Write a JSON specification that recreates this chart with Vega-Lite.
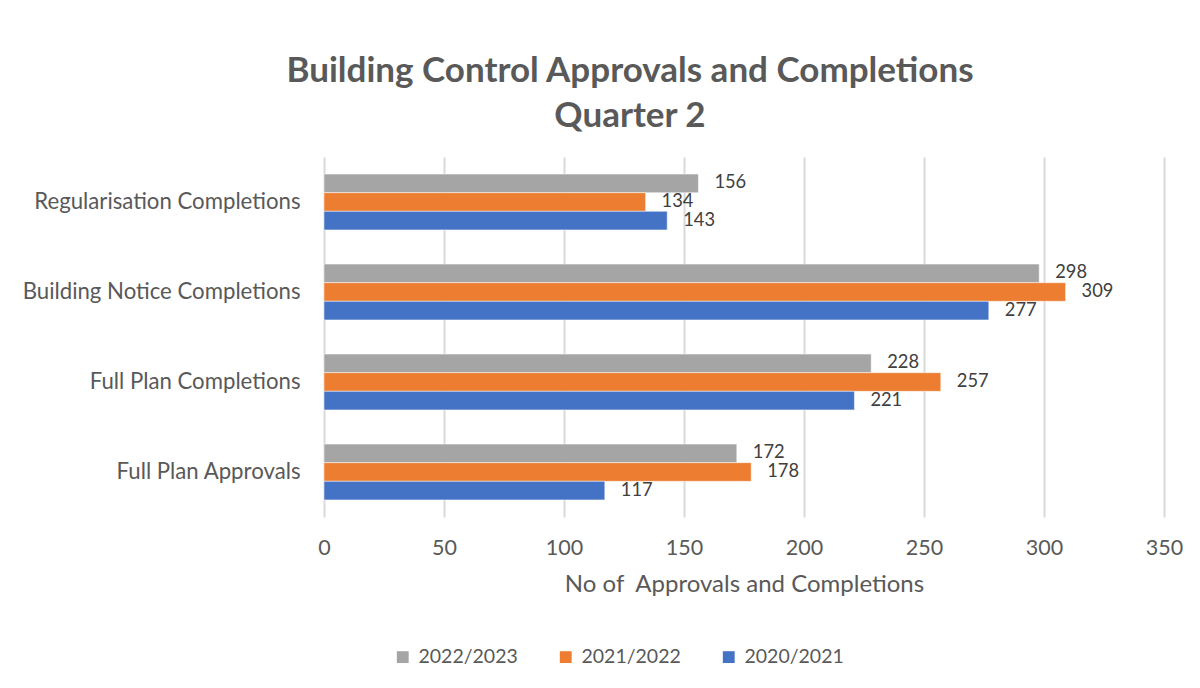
{
  "$schema": "https://vega.github.io/schema/vega-lite/v6.json",
  "width": 840,
  "height": 360,
  "autosize": {"type": "none"},
  "padding": {"left": 324, "top": 157, "right": 36, "bottom": 171},
  "background": "white",
  "title": {
    "text": ["Building Control Approvals and Completions", "Quarter 2"],
    "anchor": "middle",
    "frame": "group",
    "dx": -114,
    "offset": 23,
    "font": "Lato",
    "fontSize": 35,
    "fontWeight": "bold",
    "color": "#595959",
    "lineHeight": 45
  },
  "data": {
    "values": [
      {"category": "Regularisation Completions", "series": "2022/2023", "value": 156},
      {"category": "Regularisation Completions", "series": "2021/2022", "value": 134},
      {"category": "Regularisation Completions", "series": "2020/2021", "value": 143},
      {"category": "Building Notice Completions", "series": "2022/2023", "value": 298},
      {"category": "Building Notice Completions", "series": "2021/2022", "value": 309},
      {"category": "Building Notice Completions", "series": "2020/2021", "value": 277},
      {"category": "Full Plan Completions", "series": "2022/2023", "value": 228},
      {"category": "Full Plan Completions", "series": "2021/2022", "value": 257},
      {"category": "Full Plan Completions", "series": "2020/2021", "value": 221},
      {"category": "Full Plan Approvals", "series": "2022/2023", "value": 172},
      {"category": "Full Plan Approvals", "series": "2021/2022", "value": 178},
      {"category": "Full Plan Approvals", "series": "2020/2021", "value": 117}
    ]
  },
  "encoding": {
    "y": {
      "field": "category",
      "type": "nominal",
      "sort": ["Regularisation Completions", "Building Notice Completions", "Full Plan Completions", "Full Plan Approvals"],
      "scale": {"paddingInner": 0.38, "paddingOuter": 0.19},
      "axis": {
        "title": null,
        "domain": false,
        "ticks": false,
        "labelPadding": 24,
        "labelLimit": 400,
        "labelFont": "Lato",
        "labelFontSize": 22.2,
        "labelColor": "#595959"
      }
    },
    "yOffset": {
      "field": "series",
      "type": "nominal",
      "sort": ["2022/2023", "2021/2022", "2020/2021"]
    },
    "x": {
      "field": "value",
      "type": "quantitative",
      "scale": {"domain": [0, 350], "nice": false},
      "axis": {
        "values": [0, 50, 100, 150, 200, 250, 300, 350],
        "title": "No of\u00a0 Approvals and Completions",
        "titleFont": "Lato",
        "titleFontSize": 24,
        "titleFontWeight": "normal",
        "titleColor": "#595959",
        "titlePadding": 14,
        "domain": false,
        "ticks": false,
        "labelFlush": false,
        "labelPadding": 20,
        "labelFont": "Lato",
        "labelFontSize": 21.5,
        "labelColor": "#595959",
        "gridColor": "#d9d9d9",
        "gridWidth": 2
      }
    }
  },
  "layer": [
    {
      "mark": {"type": "bar", "stroke": "white", "strokeWidth": 0.5},
      "encoding": {
        "color": {
          "field": "series",
          "type": "nominal",
          "sort": ["2022/2023", "2021/2022", "2020/2021"],
          "scale": {
            "domain": ["2022/2023", "2021/2022", "2020/2021"],
            "range": ["#A5A5A5", "#ED7D31", "#4472C4"]
          },
          "legend": {
            "title": null,
            "orient": "none",
            "direction": "horizontal",
            "legendX": 69,
            "legendY": 490,
            "symbolType": "square",
            "symbolSize": 140,
            "symbolStrokeWidth": 0,
            "labelFont": "Lato",
            "labelFontSize": 19.5,
            "labelColor": "#595959",
            "labelOffset": 6,
            "columnPadding": 38
          }
        }
      }
    },
    {
      "mark": {
        "type": "text",
        "align": "left",
        "baseline": "middle",
        "dx": 16,
        "font": "Lato",
        "fontSize": 18.3,
        "color": "#404040"
      },
      "encoding": {
        "text": {"field": "value", "type": "quantitative"}
      }
    }
  ],
  "config": {"view": {"stroke": null}}
}
